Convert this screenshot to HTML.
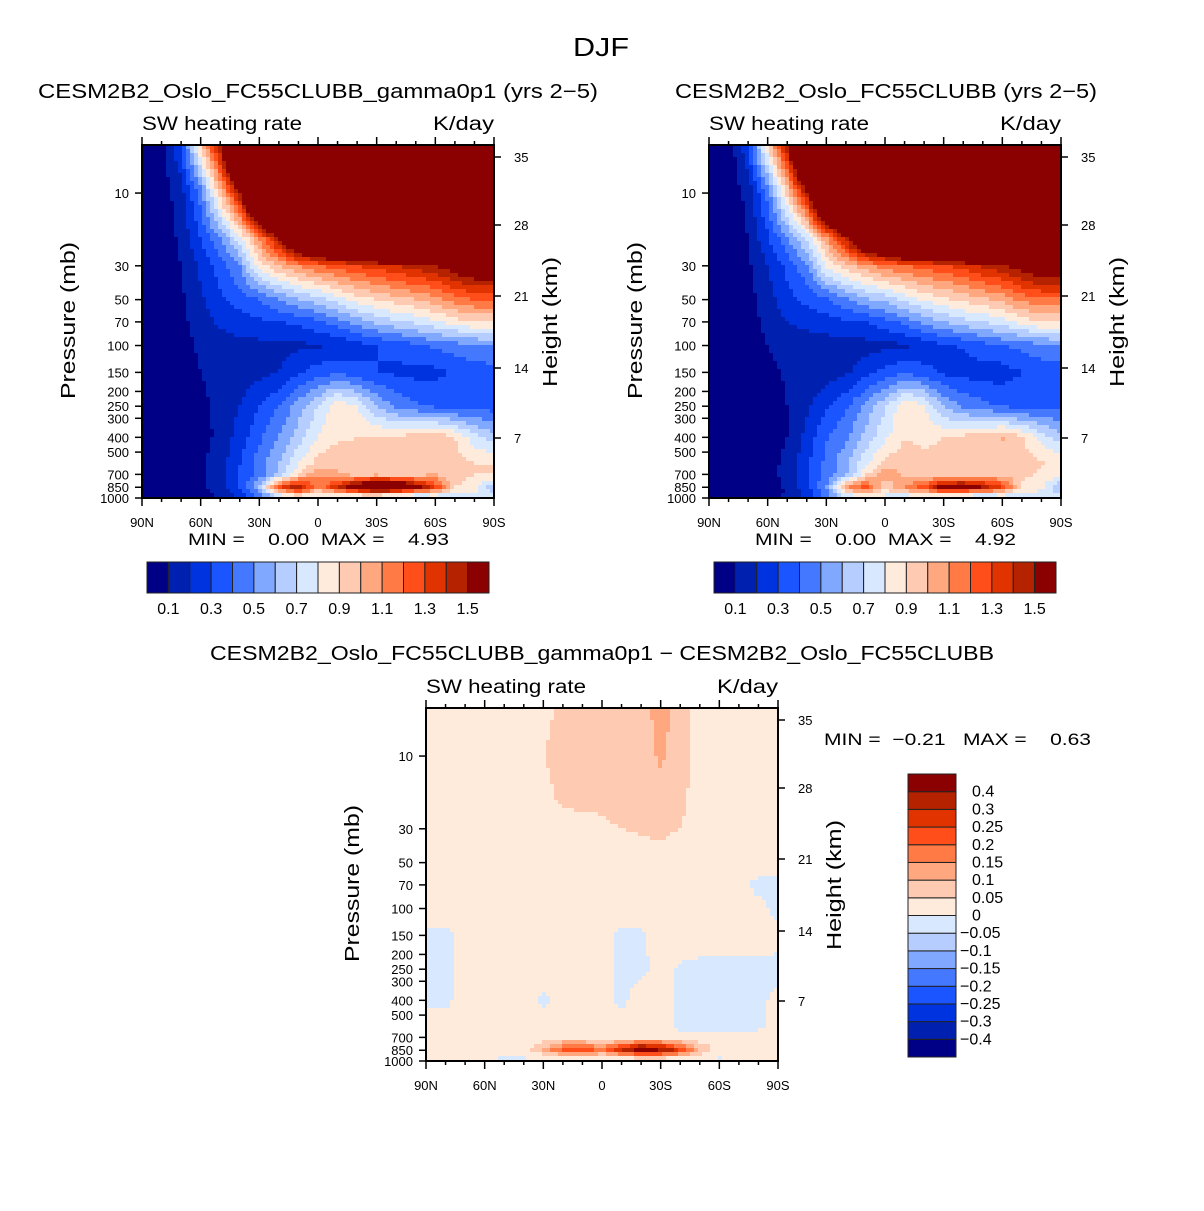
<!DOCTYPE html>
<html><head><meta charset="utf-8"><style>
body{margin:0;background:#fff}
svg text{font-family:"Liberation Sans",sans-serif;fill:#000}
</style></head><body>
<svg id="root" width="1204" height="1206" viewBox="0 0 1204 1206" xmlns="http://www.w3.org/2000/svg">
<text x="573" y="56" font-size="26" textLength="56" lengthAdjust="spacingAndGlyphs">DJF</text>
<text x="38" y="98" font-size="20" textLength="560" lengthAdjust="spacingAndGlyphs">CESM2B2_Oslo_FC55CLUBB_gamma0p1 (yrs 2−5)</text>
<text x="675" y="98" font-size="20" textLength="422" lengthAdjust="spacingAndGlyphs">CESM2B2_Oslo_FC55CLUBB (yrs 2−5)</text>
<text x="210" y="660" font-size="20" textLength="784" lengthAdjust="spacingAndGlyphs">CESM2B2_Oslo_FC55CLUBB_gamma0p1 − CESM2B2_Oslo_FC55CLUBB</text>
<text x="188" y="545" font-size="17" textLength="261" lengthAdjust="spacingAndGlyphs" xml:space="preserve">MIN =    0.00  MAX =    4.93</text>
<text x="755" y="545" font-size="17" textLength="261" lengthAdjust="spacingAndGlyphs" xml:space="preserve">MIN =    0.00  MAX =    4.92</text>
<text x="824" y="745" font-size="17" textLength="267" lengthAdjust="spacingAndGlyphs" xml:space="preserve">MIN =  −0.21   MAX =    0.63</text>
</svg>
<script>
// ---- data ----
const lats = [90,80,70,60,50,40,30,20,10,0,-10,-20,-30,-40,-50,-60,-70,-80,-90];
const latLabels = ["90N","60N","30N","0","30S","60S","90S"];
const levels = [1000,925,850,700,600,400,250,150,100,70,50,30,20,10,5];
const pTicks = [10,30,50,70,100,150,200,250,300,400,500,700,850,1000];
const hTicks = ["7","14","21","28","35"];
const swLevels = [0.1,0.2,0.3,0.4,0.5,0.6,0.7,0.8,0.9,1.0,1.1,1.2,1.3,1.4,1.5];
const swLabels = ["0.1","0.3","0.5","0.7","0.9","1.1","1.3","1.5"];
const diffLevels = [-0.4,-0.3,-0.25,-0.2,-0.15,-0.1,-0.05,0,0.05,0.1,0.15,0.2,0.25,0.3,0.4];
const diffLabels = ["−0.4","−0.3","−0.25","−0.2","−0.15","−0.1","−0.05","0","0.05","0.1","0.15","0.2","0.25","0.3","0.4"];
const palette = ["#000087","#0020b0","#0033e0","#1a55ff","#4479ff","#80a8ff","#b5cdff","#d7e8ff","#ffebdc","#ffcab2","#ffa880","#ff7a45","#ff4e1a","#e03300","#b52200","#8b0000"];
// field 1 (K/day): rows = levels (1000 -> 5 mb), cols = lats 90N -> 90S
const field1 = [
[0,0.02,0.03,0.08,0.1,0.2,0.4,0.6,0.7,0.7,0.6,0.6,0.55,0.5,0.5,0.6,0.7,0.8,0.8],
[0,0.02,0.03,0.08,0.12,0.25,0.5,0.9,1.1,0.9,1.0,1.1,1.2,1.1,1.0,0.95,0.8,0.8,0.7],
[0,0.02,0.03,0.07,0.15,0.3,0.6,1.3,1.5,1.1,1.4,1.7,2.0,1.9,1.6,1.3,0.9,0.85,0.6],
[0,0.02,0.03,0.08,0.15,0.3,0.45,0.6,0.9,1.1,1.0,0.95,0.95,0.95,0.95,1.0,0.95,0.9,0.9],
[0,0.02,0.03,0.08,0.15,0.3,0.45,0.6,0.8,0.95,1.0,0.95,0.95,0.95,0.95,0.95,0.95,0.9,0.9],
[0,0.02,0.03,0.07,0.12,0.25,0.38,0.5,0.65,0.8,0.88,0.9,0.92,0.92,0.95,1.0,0.9,0.75,0.65],
[0,0.02,0.04,0.08,0.12,0.2,0.3,0.4,0.55,0.7,0.88,0.8,0.6,0.48,0.42,0.38,0.36,0.35,0.35],
[0,0.02,0.05,0.1,0.13,0.15,0.17,0.2,0.28,0.35,0.38,0.33,0.3,0.28,0.27,0.27,0.32,0.35,0.35],
[0,0.02,0.06,0.12,0.15,0.17,0.17,0.17,0.18,0.19,0.2,0.25,0.3,0.33,0.38,0.42,0.45,0.48,0.5],
[0,0.02,0.07,0.15,0.22,0.25,0.28,0.3,0.32,0.38,0.45,0.55,0.62,0.68,0.72,0.78,0.85,0.9,0.9],
[0,0.02,0.08,0.18,0.28,0.35,0.4,0.5,0.6,0.65,0.75,0.85,0.9,0.95,1.0,1.05,1.15,1.2,1.2],
[0,0.03,0.1,0.22,0.35,0.5,0.85,1.0,1.1,1.2,1.25,1.3,1.35,1.4,1.45,1.5,1.6,1.7,1.7],
[0,0.04,0.12,0.3,0.5,0.75,1.1,1.5,2.0,2.2,2.5,2.6,2.7,2.8,2.8,2.8,2.8,2.8,2.8],
[0,0.05,0.15,0.45,0.95,1.5,2.5,3,3,3,3,3,3,3,3,3,3,3,3],
[0,0.05,0.3,0.9,1.5,2.5,3,3,3,3,3,3,3,3,3,3,3,3,3]
];
// difference field (gamma0p1 - control)
const diff = [
[0.02,0.0,-0.01,-0.02,-0.03,-0.03,-0.03,-0.03,-0.03,-0.03,-0.03,-0.03,-0.03,-0.03,-0.03,-0.03,-0.01,0.0,0.02],
[0.02,0.02,0.02,0.02,0.02,0.02,0.03,0.07,0.07,0.05,0.09,0.12,0.12,0.08,0.03,0.02,0.02,0.02,0.02],
[0.02,0.02,0.02,0.02,0.02,0.03,0.1,0.22,0.25,0.18,0.3,0.45,0.4,0.25,0.1,0.02,0.02,0.02,0.02],
[0.02,0.02,0.02,0.02,0.02,0.02,0.02,0.04,0.02,0.02,0.02,0.02,0.02,0.02,0.02,0.02,0.02,0.02,0.02],
[0.02,0.02,0.02,0.02,0.02,0.02,0.02,0.02,0.02,0.02,0.02,0.02,0.02,-0.01,-0.01,-0.01,-0.01,-0.01,0.02],
[-0.01,-0.01,0.02,0.02,0.02,0.02,-0.01,0.02,0.02,0.02,-0.01,0.02,0.02,-0.01,-0.01,-0.01,-0.01,-0.01,0.01],
[-0.01,-0.01,0.02,0.02,0.02,0.02,0.02,0.02,0.02,0.02,-0.01,-0.01,0.01,-0.005,-0.01,-0.01,-0.01,-0.01,-0.01],
[-0.01,-0.01,0.01,0.02,0.02,0.02,0.02,0.02,0.02,0.02,-0.01,-0.005,0.02,0.02,0.02,0.02,0.02,0.02,0.01],
[0.02,0.02,0.02,0.02,0.02,0.02,0.02,0.02,0.02,0.02,0.02,0.02,0.02,0.02,0.02,0.02,0.02,0.01,-0.01],
[0.02,0.02,0.02,0.02,0.02,0.02,0.02,0.02,0.02,0.02,0.02,0.02,0.02,0.02,0.02,0.02,0.01,-0.01,-0.01],
[0.02,0.02,0.02,0.02,0.02,0.02,0.02,0.02,0.02,0.02,0.02,0.03,0.03,0.02,0.02,0.02,0.02,0.02,0.02],
[0.02,0.02,0.02,0.02,0.02,0.02,0.03,0.035,0.04,0.045,0.05,0.055,0.06,0.05,0.03,0.02,0.02,0.02,0.02],
[0.02,0.02,0.02,0.02,0.02,0.03,0.04,0.055,0.055,0.055,0.06,0.065,0.08,0.06,0.03,0.02,0.02,0.02,0.02],
[0.02,0.02,0.02,0.02,0.02,0.03,0.05,0.06,0.065,0.065,0.065,0.07,0.11,0.07,0.03,0.02,0.02,0.02,0.02],
[0.02,0.02,0.02,0.02,0.02,0.03,0.04,0.06,0.07,0.07,0.07,0.08,0.12,0.08,0.03,0.02,0.02,0.02,0.02]
];
// ---- drawing ----
const NS = "http://www.w3.org/2000/svg";
const root = document.getElementById('root');
const PW = 352, PH = 353, PTOP = 4.84;
const K = PH / Math.log10(1000 / PTOP);
function mk(tag, attrs, parent){ const e=document.createElementNS(NS,tag); for(const k in attrs) e.setAttribute(k,attrs[k]); (parent||root).appendChild(e); return e; }
function yOfP(p){ return PH - K*Math.log10(1000/p); }
function xOfLat(lat){ return (90-lat)/180*PW; }
function sample(field, lat, p){
  let fi = (90-lat)/10; fi=Math.max(0,Math.min(17.9999,fi)); const i0=Math.floor(fi), tx=fi-i0;
  const lp=Math.log(p); let j=0;
  while(j<levels.length-2 && Math.log(levels[j+1])>lp) j++;
  let ty=(Math.log(levels[j])-lp)/(Math.log(levels[j])-Math.log(levels[j+1])); ty=Math.max(0,Math.min(1,ty));
  const a=field[j][i0]*(1-tx)+field[j][i0+1]*tx, b=field[j+1][i0]*(1-tx)+field[j+1][i0+1]*tx;
  return a*(1-ty)+b*ty;
}
function colorIdx(v, bounds){ let k=0; while(k<bounds.length && v>=bounds[k]) k++; return k; }
function drawPanel(ox, oy, field, bounds, name){
  const g = mk('g',{transform:`translate(${ox},${oy})`});
  
  
  const cs=4, nx=Math.ceil(PW/cs), ny=Math.ceil(PH/cs);
  for(let r=0;r<ny;r++){
    const yc=(r+0.5)*cs, p=1000/Math.pow(10,(PH-yc)/K);
    let start=0, cur=-1;
    for(let c=0;c<=nx;c++){
      let idx=-2;
      if(c<nx){ const lat=90-((c+0.5)*cs)/PW*180; idx=colorIdx(sample(field,lat,p),bounds); }
      if(idx!==cur){
        if(cur>=0){
          const rc = mk('rect',{x:start*cs,y:r*cs,width:Math.min((c-start)*cs,PW-start*cs)+0.5,height:Math.min(cs,PH-r*cs)+0.5,fill:palette[cur]},g);
          
          
        }
        start=c; cur=idx;
      }
    }
  }
  const fr = mk('rect',{x:0,y:0,width:PW,height:PH,fill:'none',stroke:'#000','stroke-width':2},g);
  
  
  for(let lat=90;lat>=-90;lat-=10){
    const x=xOfLat(lat), L=(lat%30===0)?8:4;
    mk('line',{x1:x,x2:x,y1:PH,y2:PH+L,stroke:'#000','stroke-width':1.5},g);
    mk('line',{x1:x,x2:x,y1:0,y2:-L,stroke:'#000','stroke-width':1.5},g);
  }
  latLabels.forEach((t,i)=>{
    const tx = mk('text',{x:i*PW/6,y:PH+29,'font-size':13,'text-anchor':'middle'},g);
    tx.textContent=t;
    
    
  });
  pTicks.forEach(p=>{
    const y=yOfP(p);
    mk('line',{x1:-7,x2:0,y1:y,y2:y,stroke:'#000','stroke-width':1.5},g);
    const tx = mk('text',{x:-13,y:y+5,'font-size':13,'text-anchor':'end'},g);
    tx.textContent=p;
    
    
  });
  const hy=[293,223,151,80,12];
  hTicks.forEach((t,i)=>{
    mk('line',{x1:PW,x2:PW+7,y1:hy[i],y2:hy[i],stroke:'#000','stroke-width':1.5},g);
    const tx = mk('text',{x:PW+20,y:hy[i]+5,'font-size':13},g);
    tx.textContent=t;
    
    
  });
  const yl = mk('text',{x:-78,y:0,'font-size':20,textLength:157,lengthAdjust:'spacingAndGlyphs',transform:`translate(-67,${176}) rotate(-90)`},g);
  yl.textContent='Pressure (mb)';
  
  
  const hl = mk('text',{x:-65,y:0,'font-size':20,textLength:130,lengthAdjust:'spacingAndGlyphs',transform:`translate(${PW+63},${177}) rotate(-90)`},g);
  hl.textContent='Height (km)';
  
  
  const s1 = mk('text',{x:0,y:-15,'font-size':19,textLength:160,lengthAdjust:'spacingAndGlyphs'},g);
  s1.textContent='SW heating rate';
  
  
  const s2 = mk('text',{x:PW-61,y:-15,'font-size':19,textLength:61,lengthAdjust:'spacingAndGlyphs'},g);
  s2.textContent='K/day';
  
  
}
function hColorbar(x0,y0,name){
  const g = mk('g',{});
  
  
  const w=342/16;
  palette.forEach((c,i)=>{
    const r = mk('rect',{x:x0+i*w,y:y0,width:w,height:31,fill:c,stroke:'#222','stroke-width':1},g);
    
    
  });
  swLabels.forEach((t,i)=>{
    const tx = mk('text',{x:x0+(1+2*i)*w,y:y0+52,'font-size':16,'text-anchor':'middle'},g);
    tx.textContent=t;
    
    
  });
}
const field2 = field1.map((row,j)=>row.map((v,i)=>Math.max(0,v-diff[j][i])));
drawPanel(142,145,field1,swLevels,'panel1');
drawPanel(709,145,field2,swLevels,'panel2');
drawPanel(426,708,diff,diffLevels,'panel3');
hColorbar(147,562,'panel1-colorbar');
hColorbar(714,562,'panel2-colorbar');
(function(){
  const g = mk('g',{});
  
  
  const x0=908,y0=774,h=283/16;
  palette.forEach((c,i)=>{
    const r = mk('rect',{x:x0,y:y0+(15-i)*h,width:48,height:h,fill:c,stroke:'#222','stroke-width':1},g);
    
    
  });
  diffLabels.forEach((t,i)=>{
    const tx = mk('text',{x:t.startsWith('−')?960:972,y:y0+(15-i)*h+5,'font-size':16},g);
    tx.textContent=t;
    
    
  });
})();
</script>
</body></html>
